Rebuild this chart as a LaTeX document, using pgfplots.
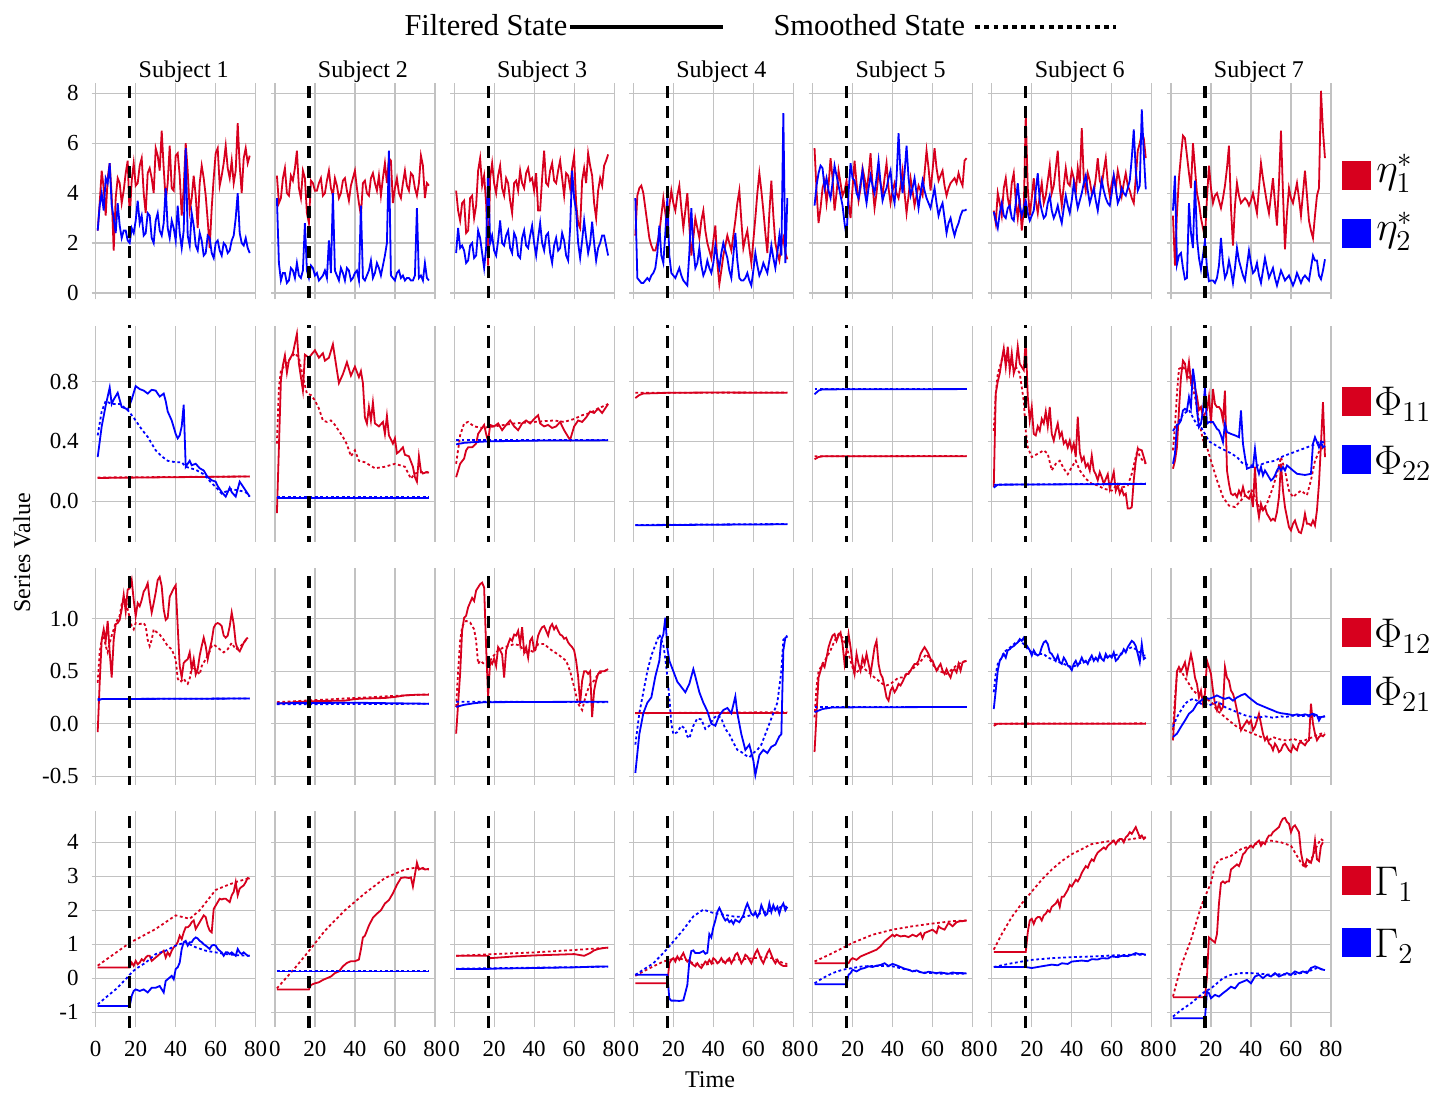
\documentclass[border=0pt]{standalone}
\usepackage[no-math]{fontspec}
\setmainfont{Liberation Serif}
\usepackage{pgfplots}
\pgfplotsset{compat=1.18}
\usepgfplotslibrary{groupplots}
\usetikzlibrary{calc}
\definecolor{cred}{HTML}{D7001E}
\definecolor{cblue}{HTML}{0000FF}

\pgfplotsset{
  /pgf/number format/assume math mode=true,
  fr/.style={cred, line width=0.9pt},
  sr/.style={cred, line width=0.9pt, dash pattern=on 1.4pt off 1.3pt},
  fb/.style={cblue, line width=0.9pt},
  sb/.style={cblue, line width=0.9pt, dash pattern=on 1.4pt off 1.3pt},
  vl/.style={black, line width=1.6pt, dash pattern=on 6pt off 4pt},
  rowA/.style={ymin=-0.254, ymax=8.40, ytick={0,2,4,6,8}},
  rowB/.style={ymin=-0.273, ymax=1.173, ytick={0,0.4,0.8},
    yticklabel style={/pgf/number format/.cd, fixed, fixed zerofill, precision=1}},
  rowC/.style={ymin=-0.58, ymax=1.48, ytick={-0.5,0,0.5,1},
    yticklabel style={/pgf/number format/.cd, fixed, fixed zerofill, precision=1}},
  rowD/.style={ymin=-1.44, ymax=4.92, ytick={-1,0,1,2,3,4}},
}

\begin{document}
\begin{tikzpicture}
\begin{groupplot}[
  group style={group name=G, group size=7 by 4, horizontal sep=7.6pt, vertical sep=13.3pt,
    xticklabels at=edge bottom, yticklabels at=edge left},
  scale only axis, width=82pt, height=108pt,
  xmin=-2, xmax=80, xtick={0,20,40,60,80},
  grid=major, grid style={draw=black!24, line width=0.6pt},
  axis line style={draw=none}, major tick length=0pt,
  tick label style={font=\fontsize{11.5}{13}\selectfont},
  yticklabel style={xshift=-3pt},
  xticklabel style={yshift=-3.5pt},
  title style={font=\fontsize{12}{14}\selectfont, anchor=base, at={(0.5,1)}, yshift=-3pt, xshift=5pt},
  no markers, clip=true,
]
% ---------------- row 1 : eta ----------------
\nextgroupplot[rowA, title={Subject 1}]
\addplot[fr] coordinates {(1,2.5)(2,3.6)(3,4.9)(4,4.2)(5,3.1)(6,4.6)(7,5.2)(8,3.9)(9,1.7)(10,3.8)(11,4.6)(12,4.4)(13,3.6)(14,4.1)(15,4.8)(16,5.3)(17,3.0)(18,4.5)(19,5.2)(20,4.3)(21,4.4)(22,5.1)(23,5.4)(24,4.0)(25,3.2)(26,4.8)(27,5.0)(28,4.6)(29,4.0)(30,5.8)(31,5.5)(32,4.9)(33,6.5)(34,5.0)(35,3.7)(36,4.4)(37,5.9)(38,4.2)(39,4.1)(40,5.5)(41,5.6)(42,4.7)(43,3.1)(44,4.2)(45,6.0)(46,4.9)(47,3.3)(48,3.8)(49,4.7)(50,3.9)(51,2.6)(52,4.4)(53,5.1)(54,4.6)(55,3.9)(56,2.9)(57,1.8)(58,3.4)(59,4.6)(60,5.6)(61,5.8)(62,4.3)(63,4.7)(64,5.2)(65,5.9)(66,5.0)(67,4.6)(68,5.3)(69,4.4)(70,4.9)(71,6.8)(72,5.1)(73,4.0)(74,5.4)(75,5.8)(76,5.2)(77,5.5)};
\addplot[fb] coordinates {(1,2.5)(2,3.5)(3,4.0)(4,3.3)(5,4.6)(6,4.4)(7,5.2)(8,3.5)(9,3.0)(10,2.4)(11,3.6)(12,2.7)(13,2.2)(14,2.5)(15,2.5)(16,2.1)(17,2.0)(18,2.6)(19,2.4)(20,2.9)(21,3.7)(22,2.8)(23,3.1)(24,2.3)(25,2.4)(26,3.2)(27,3.1)(28,2.2)(29,2.0)(30,2.9)(31,3.2)(32,2.5)(33,2.3)(34,2.8)(35,4.2)(36,2.6)(37,2.2)(38,2.9)(39,2.6)(40,2.1)(41,3.5)(42,2.4)(43,1.8)(44,2.5)(45,5.8)(46,2.3)(47,1.9)(48,3.2)(49,2.7)(50,1.9)(51,1.7)(52,2.4)(53,2.1)(54,1.5)(55,1.6)(56,2.3)(57,2.2)(58,1.6)(59,1.4)(60,2.0)(61,2.1)(62,1.7)(63,1.5)(64,2.0)(65,1.9)(66,1.6)(67,1.7)(68,2.1)(69,2.3)(70,3.0)(71,4.0)(72,2.4)(73,2.0)(74,1.9)(75,2.2)(76,1.8)(77,1.6)};
\addplot[vl] coordinates {(17,-5)(17,10)};

\nextgroupplot[rowA, title={Subject 2}]
\addplot[fr] coordinates {(1,4.7)(2,3.6)(3,3.8)(4,4.6)(5,5.0)(6,4.0)(7,3.9)(8,4.7)(9,4.5)(10,5.0)(11,5.7)(12,4.2)(13,3.8)(14,4.9)(15,4.6)(16,3.2)(17,2.8)(18,4.5)(19,4.4)(20,4.1)(21,4.1)(22,4.4)(23,4.6)(24,3.9)(25,4.0)(26,4.5)(27,4.9)(28,4.2)(29,3.9)(30,4.6)(31,4.3)(32,3.8)(33,4.0)(34,4.5)(35,4.6)(36,4.1)(37,3.7)(38,4.3)(39,4.6)(40,4.9)(41,4.2)(42,3.6)(43,3.1)(44,4.4)(45,4.5)(46,4.0)(47,3.9)(48,4.6)(49,4.8)(50,4.4)(51,4.1)(52,4.7)(53,3.9)(54,4.6)(55,5.2)(56,4.4)(57,5.4)(58,5.3)(59,3.6)(60,4.2)(61,4.6)(62,4.0)(63,3.8)(64,4.4)(65,4.9)(66,4.3)(67,4.1)(68,4.8)(69,4.7)(70,4.2)(71,3.9)(72,4.4)(73,5.5)(74,5.1)(75,3.8)(76,4.4)(77,4.3)};
\addplot[fb] coordinates {(1,3.8)(2,1.2)(3,0.5)(4,0.8)(5,0.8)(6,0.4)(7,0.5)(8,1.0)(9,0.9)(10,0.6)(11,1.2)(12,0.7)(13,0.6)(14,0.9)(15,2.8)(16,0.9)(17,0.6)(18,1.1)(19,1.0)(20,0.7)(21,0.8)(22,0.5)(23,0.6)(24,0.7)(25,0.9)(26,0.6)(27,2.1)(28,0.8)(29,4.0)(30,0.9)(31,0.7)(32,0.5)(33,1.0)(34,0.8)(35,0.5)(36,1.0)(37,0.9)(38,0.5)(39,0.6)(40,0.8)(41,0.9)(42,0.5)(43,3.5)(44,0.6)(45,0.5)(46,0.7)(47,0.9)(48,1.3)(49,0.6)(50,0.8)(51,1.2)(52,1.0)(53,0.7)(54,1.1)(55,1.5)(56,2.0)(57,5.7)(58,0.7)(59,0.6)(60,0.5)(61,0.8)(62,0.9)(63,0.6)(64,0.7)(65,0.5)(66,0.6)(67,0.6)(68,0.5)(69,0.5)(70,0.7)(71,3.4)(72,0.6)(73,0.7)(74,0.5)(75,1.2)(76,0.6)(77,0.5)};
\addplot[vl] coordinates {(17,-5)(17,10)};

\nextgroupplot[rowA, title={Subject 3}]
\addplot[fr] coordinates {(1,4.1)(2,3.3)(3,2.9)(4,3.6)(5,3.7)(6,2.4)(7,2.5)(8,3.8)(9,3.9)(10,3.0)(11,3.5)(12,4.9)(13,5.4)(14,4.3)(15,4.7)(16,3.6)(17,1.1)(18,4.6)(19,5.2)(20,4.4)(21,4.0)(22,4.7)(23,5.1)(24,4.2)(25,3.9)(26,4.6)(27,4.4)(28,3.7)(29,3.2)(30,4.4)(31,4.5)(32,4.1)(33,4.9)(34,4.4)(35,4.2)(36,4.8)(37,5.0)(38,4.5)(39,4.6)(40,4.1)(41,4.8)(42,3.3)(43,3.3)(44,4.6)(45,5.7)(46,4.4)(47,4.3)(48,4.9)(49,5.2)(50,4.5)(51,4.4)(52,4.9)(53,5.3)(54,4.6)(55,3.9)(56,4.8)(57,4.7)(58,4.2)(59,5.0)(60,5.5)(61,3.6)(62,2.8)(63,2.6)(64,4.5)(65,5.0)(66,4.4)(67,5.6)(68,5.1)(69,4.7)(70,3.6)(71,3.0)(72,4.1)(73,4.6)(74,4.3)(75,5.1)(76,5.3)(77,5.55)};
\addplot[fb] coordinates {(1,1.6)(2,2.6)(3,1.8)(4,1.9)(5,1.7)(6,1.2)(7,1.3)(8,1.9)(9,2.0)(10,1.4)(11,1.5)(12,2.5)(13,2.2)(14,1.6)(15,1.0)(16,1.8)(17,5.0)(18,2.0)(19,2.3)(20,1.7)(21,1.5)(22,2.1)(23,2.9)(24,2.0)(25,1.9)(26,2.3)(27,2.5)(28,1.8)(29,1.6)(30,2.4)(31,2.2)(32,1.5)(33,1.4)(34,2.2)(35,2.5)(36,1.9)(37,1.8)(38,2.3)(39,2.7)(40,2.0)(41,1.5)(42,2.2)(43,2.8)(44,2.0)(45,1.7)(46,2.3)(47,2.4)(48,1.6)(49,1.2)(50,1.9)(51,2.2)(52,1.7)(53,1.8)(54,2.4)(55,2.1)(56,1.5)(57,1.3)(58,2.6)(59,4.9)(60,3.8)(61,3.3)(62,2.0)(63,1.4)(64,2.1)(65,2.9)(66,2.2)(67,1.6)(68,2.0)(69,2.85)(70,2.0)(71,1.3)(72,1.8)(73,2.0)(74,2.3)(75,2.3)(76,1.9)(77,1.5)};
\addplot[vl] coordinates {(17,-5)(17,10)};

\nextgroupplot[rowA, title={Subject 4}]
\addplot[fr] coordinates {(1,2.3)(2,3.9)(3,4.2)(4,4.3)(5,4.0)(6,3.4)(7,2.8)(8,2.2)(9,1.9)(10,1.7)(11,1.7)(12,2.0)(13,2.4)(14,3.1)(15,3.8)(16,3.2)(17,2.6)(18,3.5)(19,4.1)(20,3.6)(21,3.3)(22,3.9)(23,4.3)(24,3.4)(25,2.6)(26,3.3)(27,4.0)(28,2.7)(29,1.5)(30,2.2)(31,3.0)(32,2.6)(33,2.2)(34,2.9)(35,3.3)(36,2.5)(37,2.0)(38,1.7)(39,1.4)(40,2.1)(41,2.7)(42,1.2)(43,0.35)(44,0.9)(45,1.5)(46,1.9)(47,2.3)(48,2.0)(49,1.7)(50,2.3)(51,2.9)(52,3.6)(53,4.1)(54,2.9)(55,1.8)(56,2.2)(57,2.5)(58,1.8)(59,1.2)(60,2.1)(61,3.0)(62,4.0)(63,4.8)(64,4.1)(65,3.3)(66,2.4)(67,1.6)(68,3.2)(69,4.5)(70,3.1)(71,2.0)(72,1.6)(73,1.3)(74,1.9)(75,2.2)(76,1.6)(77,1.35)};
\addplot[fb] coordinates {(1,3.8)(2,0.6)(3,0.5)(4,0.4)(5,0.4)(6,0.5)(7,0.6)(8,0.5)(9,0.7)(10,0.8)(11,1.0)(12,1.6)(13,2.7)(14,1.5)(15,1.2)(16,2.4)(17,3.8)(18,1.5)(19,0.8)(20,0.7)(21,0.6)(22,0.8)(23,1.0)(24,0.7)(25,0.5)(26,0.4)(27,0.3)(28,1.6)(29,3.4)(30,1.8)(31,1.0)(32,1.2)(33,1.8)(34,1.1)(35,0.7)(36,0.9)(37,1.3)(38,1.0)(39,0.8)(40,1.2)(41,1.9)(42,1.4)(43,1.0)(44,1.6)(45,2.0)(46,1.7)(47,1.4)(48,0.9)(49,0.6)(50,1.5)(51,2.4)(52,1.3)(53,0.6)(54,0.5)(55,0.5)(56,0.6)(57,0.8)(58,0.5)(59,0.3)(60,0.9)(61,1.6)(62,1.1)(63,0.7)(64,0.9)(65,1.2)(66,1.0)(67,0.8)(68,1.3)(69,1.9)(70,1.4)(71,1.0)(72,1.6)(73,2.3)(74,1.5)(75,7.2)(76,1.2)(77,3.8)};
\addplot[vl] coordinates {(17,-5)(17,10)};

\nextgroupplot[rowA, title={Subject 5}]
\addplot[fr] coordinates {(1,5.8)(2,4.1)(3,2.8)(4,3.4)(5,4.2)(6,4.5)(7,3.6)(8,4.3)(9,5.4)(10,4.6)(11,3.3)(12,4.0)(13,4.9)(14,4.4)(15,3.9)(16,4.1)(17,4.5)(18,3.6)(19,3.0)(20,4.2)(21,5.3)(22,4.4)(23,3.7)(24,4.2)(25,5.0)(26,4.6)(27,4.1)(28,4.7)(29,5.6)(30,4.3)(31,3.4)(32,4.0)(33,4.8)(34,4.4)(35,3.9)(36,4.6)(37,5.2)(38,4.2)(39,3.6)(40,4.1)(41,4.4)(42,4.0)(43,3.8)(44,4.3)(45,4.9)(46,4.0)(47,3.2)(48,3.9)(49,4.6)(50,4.1)(51,3.5)(52,3.9)(53,4.3)(54,4.1)(55,3.9)(56,4.8)(57,5.7)(58,5.0)(59,4.1)(60,4.9)(61,5.8)(62,5.0)(63,4.5)(64,4.7)(65,4.9)(66,4.3)(67,3.9)(68,4.2)(69,4.4)(70,4.5)(71,4.6)(72,4.4)(73,4.8)(74,4.5)(75,4.3)(76,5.3)(77,5.4)};
\addplot[fb] coordinates {(1,3.5)(2,4.3)(3,4.8)(4,5.1)(5,5.0)(6,4.2)(7,4.6)(8,4.1)(9,3.8)(10,4.4)(11,5.1)(12,4.7)(13,4.3)(14,3.9)(15,3.5)(16,2.8)(17,2.25)(18,4.0)(19,5.2)(20,4.6)(21,4.5)(22,4.0)(23,3.8)(24,4.4)(25,4.9)(26,4.1)(27,3.6)(28,4.2)(29,4.7)(30,4.3)(31,4.0)(32,4.6)(33,5.3)(34,4.4)(35,3.7)(36,4.0)(37,4.2)(38,4.6)(39,4.9)(40,4.0)(41,3.6)(42,4.6)(43,6.4)(44,4.8)(45,4.0)(46,4.8)(47,5.9)(48,4.6)(49,3.9)(50,4.2)(51,4.6)(52,4.0)(53,3.4)(54,4.0)(55,4.5)(56,4.1)(57,3.8)(58,3.6)(59,3.4)(60,3.8)(61,4.2)(62,3.6)(63,3.1)(64,3.4)(65,3.6)(66,3.0)(67,2.4)(68,2.8)(69,3.0)(70,2.6)(71,2.3)(72,2.6)(73,2.8)(74,3.1)(75,3.3)(76,3.3)(77,3.35)};
\addplot[vl] coordinates {(17,-5)(17,10)};

\nextgroupplot[rowA, title={Subject 6}]
\addplot[fr] coordinates {(1,3.3)(2,2.8)(3,4.0)(4,3.6)(5,3.1)(6,4.2)(7,4.6)(8,3.8)(9,3.4)(10,4.4)(11,4.8)(12,3.7)(13,3.0)(14,3.8)(15,2.5)(16,3.3)(17,7.15)(18,4.2)(19,3.1)(20,3.8)(21,4.6)(22,3.7)(23,3.2)(24,3.9)(25,4.4)(26,3.6)(27,3.9)(28,4.5)(29,5.1)(30,4.0)(31,4.3)(32,5.0)(33,5.7)(34,4.2)(35,3.5)(36,4.3)(37,5.0)(38,4.4)(39,4.3)(40,4.9)(41,4.6)(42,4.0)(43,5.0)(44,4.4)(45,6.6)(46,4.6)(47,4.1)(48,4.8)(49,4.5)(50,4.0)(51,4.0)(52,4.6)(53,5.4)(54,4.5)(55,4.3)(56,4.9)(57,5.4)(58,4.4)(59,3.9)(60,4.4)(61,4.7)(62,4.2)(63,4.9)(64,4.5)(65,3.9)(66,4.4)(67,4.8)(68,4.3)(69,4.1)(70,3.8)(71,3.6)(72,4.6)(73,5.7)(74,6.0)(75,6.4)(76,6.2)(77,5.4)};
\addplot[fb] coordinates {(1,3.25)(2,2.9)(3,2.6)(4,3.2)(5,3.6)(6,3.1)(7,3.0)(8,3.4)(9,3.5)(10,3.0)(11,2.9)(12,3.6)(13,4.4)(14,3.5)(15,3.1)(16,3.4)(17,3.7)(18,3.2)(19,2.9)(20,3.1)(21,3.3)(22,4.1)(23,4.8)(24,3.7)(25,3.3)(26,3.0)(27,3.1)(28,3.6)(29,3.9)(30,3.3)(31,3.0)(32,3.2)(33,3.5)(34,3.1)(35,2.8)(36,3.4)(37,3.9)(38,3.5)(39,3.2)(40,3.7)(41,4.4)(42,3.9)(43,3.4)(44,3.7)(45,4.0)(46,4.4)(47,4.7)(48,4.1)(49,3.6)(50,3.9)(51,4.2)(52,3.7)(53,3.3)(54,3.9)(55,4.5)(56,4.1)(57,3.8)(58,3.6)(59,3.5)(60,4.0)(61,4.7)(62,4.2)(63,3.6)(64,3.8)(65,4.2)(66,4.0)(67,3.9)(68,4.2)(69,4.5)(70,5.4)(71,6.55)(72,4.9)(73,4.1)(74,4.3)(75,7.35)(76,5.6)(77,4.15)};
\addplot[vl] coordinates {(17,-5)(17,10)};

\nextgroupplot[rowA, title={Subject 7}]
\addplot[fr] coordinates {(1,3.1)(2,1.1)(3,3.2)(4,4.6)(5,5.5)(6,6.3)(7,6.2)(8,5.5)(9,4.8)(10,4.2)(11,6.0)(12,5.0)(13,4.0)(14,3.6)(15,3.0)(16,2.6)(17,2.2)(18,3.8)(19,5.1)(20,4.2)(21,3.6)(22,3.9)(23,4.0)(24,3.7)(25,3.4)(26,3.8)(27,4.3)(28,5.0)(29,5.9)(30,3.4)(31,1.9)(32,3.5)(33,4.4)(34,3.9)(35,3.6)(36,3.7)(37,3.8)(38,3.7)(39,3.5)(40,3.7)(41,4.0)(42,3.6)(43,3.2)(44,4.2)(45,5.2)(46,4.6)(47,4.1)(48,3.6)(49,3.2)(50,3.9)(51,4.6)(52,3.6)(53,2.7)(54,4.4)(55,6.5)(56,4.0)(57,1.75)(58,3.2)(59,4.2)(60,3.8)(61,3.6)(62,4.0)(63,4.4)(64,3.8)(65,3.1)(66,4.0)(67,4.9)(68,3.9)(69,2.9)(70,2.5)(71,2.2)(72,3.1)(73,3.9)(74,4.2)(75,8.1)(76,6.5)(77,5.4)};
\addplot[fb] coordinates {(1,3.3)(2,4.7)(3,1.15)(4,1.5)(5,1.6)(6,1.0)(7,0.55)(8,0.6)(9,3.6)(10,2.4)(11,1.8)(12,4.5)(13,2.2)(14,1.4)(15,0.95)(16,1.5)(17,2.1)(18,1.0)(19,0.47)(20,0.5)(21,0.5)(22,0.4)(23,0.6)(24,1.1)(25,2.2)(26,1.2)(27,0.6)(28,0.8)(29,1.3)(30,0.9)(31,0.4)(32,1.0)(33,1.8)(34,1.3)(35,1.0)(36,0.7)(37,0.5)(38,1.1)(39,1.7)(40,1.2)(41,0.8)(42,0.9)(43,1.2)(44,0.7)(45,0.4)(46,0.9)(47,1.4)(48,1.0)(49,0.6)(50,0.8)(51,1.0)(52,0.6)(53,0.3)(54,0.6)(55,0.9)(56,0.7)(57,0.5)(58,0.6)(59,0.7)(60,0.5)(61,0.3)(62,0.5)(63,0.8)(64,0.6)(65,0.4)(66,0.6)(67,0.7)(68,0.6)(69,0.5)(70,1.0)(71,1.5)(72,1.3)(73,1.3)(74,0.7)(75,0.55)(76,0.9)(77,1.35)};
\addplot[vl] coordinates {(17,-5)(17,10)};

% ---------------- row 2 : Phi11, Phi22 ----------------
\nextgroupplot[rowB]
\addplot[fr] coordinates {(1,0.155)(77,0.165)};
\addplot[sr] coordinates {(1,0.158)(77,0.165)};
\addplot[fb] coordinates {(1,0.295)(3,0.5)(5,0.64)(7,0.76)(8,0.65)(9,0.68)(11,0.725)(13,0.63)(15,0.62)(16,0.61)(18,0.68)(20,0.77)(22,0.75)(24,0.74)(26,0.72)(28,0.745)(30,0.74)(32,0.7)(34,0.72)(35,0.67)(36,0.6)(38,0.54)(40,0.45)(41,0.42)(42,0.44)(43,0.5)(44,0.645)(45,0.23)(47,0.27)(48,0.24)(50,0.25)(52,0.22)(54,0.205)(56,0.16)(58,0.14)(60,0.13)(61,0.1)(63,0.06)(65,0.03)(67,0.09)(68,0.06)(70,0.03)(72,0.13)(74,0.09)(75,0.07)(77,0.03)};
\addplot[sb] coordinates {(1,0.44)(3,0.6)(5,0.67)(8,0.65)(12,0.65)(16,0.61)(20,0.54)(23,0.48)(26,0.43)(30,0.34)(33,0.3)(36,0.27)(40,0.26)(43,0.26)(45,0.23)(50,0.21)(54,0.18)(58,0.12)(61,0.08)(63,0.05)(66,0.07)(68,0.08)(72,0.07)(75,0.06)(77,0.03)};
\addplot[vl] coordinates {(17,-5)(17,10)};

\nextgroupplot[rowB]
\addplot[fr] coordinates {(1,-0.08)(2,0.36)(3,0.81)(4,0.91)(5,0.975)(6,0.86)(7,0.94)(9,0.99)(11,1.12)(12,0.92)(14,0.74)(15,0.98)(17,0.96)(20,1.01)(22,0.96)(24,0.99)(25,0.94)(27,0.96)(29,1.05)(31,0.875)(32,0.79)(34,0.85)(36,0.93)(38,0.84)(40,0.9)(42,0.83)(43,0.87)(44,0.79)(45,0.56)(46,0.52)(47,0.63)(48,0.54)(49,0.66)(50,0.52)(52,0.5)(54,0.53)(55,0.45)(56,0.57)(57,0.44)(59,0.385)(60,0.42)(61,0.32)(62,0.33)(64,0.36)(65,0.31)(67,0.3)(69,0.23)(70,0.16)(71,0.13)(72,0.3)(73,0.2)(74,0.185)(76,0.195)(77,0.19)};
\addplot[sr] coordinates {(1,0.385)(2,0.76)(3,0.875)(5,0.91)(8,0.96)(10,0.99)(12,0.96)(14,0.83)(16,0.72)(18,0.71)(20,0.675)(22,0.62)(24,0.54)(26,0.53)(28,0.54)(30,0.51)(34,0.43)(36,0.38)(38,0.3)(40,0.34)(42,0.27)(45,0.26)(50,0.22)(55,0.23)(60,0.25)(65,0.23)(68,0.15)(70,0.185)(74,0.196)(77,0.19)};
\addplot[fb] coordinates {(1,0.022)(77,0.022)};
\addplot[sb] coordinates {(1,0.025)(77,0.025)};
\addplot[vl] coordinates {(17,-5)(17,10)};

\nextgroupplot[rowB]
\addplot[fr] coordinates {(1,0.16)(3,0.25)(5,0.285)(6,0.34)(7,0.36)(9,0.36)(11,0.385)(12,0.45)(14,0.49)(15,0.51)(16,0.45)(17,0.4)(18,0.51)(20,0.5)(22,0.52)(24,0.475)(26,0.51)(28,0.54)(30,0.5)(32,0.475)(34,0.52)(36,0.54)(38,0.52)(40,0.55)(42,0.575)(43,0.52)(45,0.5)(47,0.51)(49,0.49)(51,0.5)(53,0.53)(55,0.475)(57,0.43)(58,0.41)(60,0.5)(62,0.54)(64,0.53)(66,0.56)(68,0.6)(70,0.59)(72,0.62)(74,0.59)(76,0.63)(77,0.65)};
\addplot[sr] coordinates {(1,0.25)(3,0.44)(5,0.52)(7,0.53)(10,0.5)(14,0.49)(20,0.5)(30,0.52)(40,0.53)(50,0.54)(55,0.53)(60,0.55)(64,0.575)(68,0.59)(72,0.62)(77,0.65)};
\addplot[fb] coordinates {(1,0.38)(5,0.39)(10,0.395)(17,0.4)(40,0.405)(77,0.407)};
\addplot[sb] coordinates {(1,0.41)(77,0.41)};
\addplot[vl] coordinates {(17,-5)(17,10)};

\nextgroupplot[rowB]
\addplot[fr] coordinates {(1,0.69)(3,0.71)(5,0.72)(17,0.725)(40,0.727)(77,0.725)};
\addplot[sr] coordinates {(1,0.725)(77,0.727)};
\addplot[fb] coordinates {(1,-0.162)(40,-0.158)(77,-0.155)};
\addplot[sb] coordinates {(1,-0.16)(77,-0.153)};
\addplot[vl] coordinates {(17,-5)(17,10)};

\nextgroupplot[rowB]
\addplot[fr] coordinates {(1,0.28)(3,0.295)(5,0.3)(77,0.3)};
\addplot[sr] coordinates {(1,0.3)(77,0.302)};
\addplot[fb] coordinates {(1,0.715)(3,0.74)(5,0.748)(77,0.75)};
\addplot[sb] coordinates {(1,0.752)(77,0.752)};
\addplot[vl] coordinates {(17,-5)(17,10)};

\nextgroupplot[rowB]
\addplot[fr] coordinates {(1,0.094)(2,0.72)(3,0.8)(4,0.855)(5,0.944)(6,1.022)(7,0.9)(8,1.034)(9,0.877)(10,0.99)(11,0.855)(12,0.9)(13,1.034)(14,0.92)(16,0.877)(17,1.08)(18,0.7)(19,0.54)(20,0.63)(21,0.45)(22,0.44)(23,0.5)(24,0.47)(25,0.55)(26,0.52)(27,0.6)(28,0.5)(29,0.63)(30,0.45)(31,0.405)(32,0.47)(33,0.52)(34,0.43)(35,0.46)(36,0.385)(37,0.405)(38,0.36)(39,0.405)(40,0.34)(41,0.385)(42,0.295)(43,0.565)(44,0.33)(45,0.27)(46,0.295)(47,0.23)(48,0.25)(49,0.205)(50,0.305)(51,0.205)(52,0.18)(53,0.14)(54,0.195)(55,0.16)(56,0.116)(58,0.18)(59,0.083)(60,0.14)(61,0.195)(62,0.07)(63,0.105)(64,0.05)(65,0.083)(66,0.04)(67,0.05)(68,-0.05)(69,-0.05)(70,-0.04)(71,0.14)(72,0.27)(73,0.35)(75,0.34)(77,0.25)};
\addplot[sr] coordinates {(1,0.47)(2,0.72)(3,0.85)(5,0.944)(7,0.97)(9,0.92)(12,0.9)(14,0.855)(16,0.67)(17,0.47)(18,0.36)(20,0.295)(23,0.317)(26,0.34)(28,0.317)(30,0.206)(32,0.25)(34,0.27)(36,0.217)(38,0.18)(40,0.228)(42,0.27)(44,0.206)(47,0.15)(50,0.116)(53,0.105)(56,0.083)(60,0.07)(63,0.116)(66,0.094)(68,0.105)(70,0.183)(72,0.295)(73,0.35)(74,0.295)(77,0.25)};
\addplot[fb] coordinates {(1,0.09)(3,0.11)(77,0.115)};
\addplot[sb] coordinates {(1,0.11)(77,0.117)};
\addplot[vl] coordinates {(17,-5)(17,10)};

\nextgroupplot[rowB]
\addplot[fr] coordinates {(1,0.217)(2,0.27)(3,0.36)(4,0.61)(5,0.83)(6,0.94)(7,0.92)(8,0.83)(9,0.93)(10,0.8)(11,0.85)(12,0.76)(13,0.7)(14,0.61)(15,0.63)(16,0.56)(17,0.585)(18,0.61)(19,0.7)(20,0.52)(21,0.75)(22,0.65)(23,0.63)(24,0.63)(25,0.61)(26,0.54)(27,0.74)(28,0.205)(29,0.116)(30,0.05)(31,0.04)(32,0.05)(33,0.027)(34,0.07)(35,0.04)(36,0.094)(37,0.04)(38,0.027)(39,0.016)(40,0.05)(41,-0.04)(42,0.23)(43,-0.018)(44,-0.107)(45,-0.018)(46,-0.06)(47,-0.04)(48,-0.085)(49,-0.107)(50,-0.13)(51,-0.118)(52,-0.13)(53,-0.074)(54,0.027)(55,0.25)(56,0.07)(57,-0.04)(58,-0.107)(59,-0.174)(60,-0.196)(61,-0.152)(62,-0.13)(63,-0.174)(64,-0.207)(65,-0.214)(66,-0.163)(67,-0.085)(68,-0.152)(69,-0.152)(70,-0.163)(71,-0.13)(72,-0.163)(73,-0.06)(74,0.116)(75,0.384)(76,0.663)(77,0.295)};
\addplot[sr] coordinates {(1,0.34)(2,0.5)(3,0.72)(4,0.885)(6,0.9)(8,0.86)(10,0.8)(12,0.7)(14,0.54)(16,0.41)(18,0.36)(20,0.27)(23,0.14)(26,0.027)(29,-0.03)(32,-0.04)(35,0.005)(38,0.05)(40,0.08)(42,0.027)(44,-0.04)(46,-0.06)(48,-0.018)(51,0.094)(53,0.183)(55,0.295)(57,0.205)(59,0.07)(61,0.027)(63,0.05)(65,0.07)(68,0.04)(70,0.14)(72,0.27)(74,0.33)(76,0.36)(77,0.34)};
\addplot[fb] coordinates {(1,0.25)(2,0.317)(3,0.507)(4,0.518)(5,0.54)(6,0.607)(7,0.618)(8,0.607)(9,0.696)(10,0.63)(11,0.886)(12,0.786)(13,0.607)(14,0.496)(15,0.518)(16,0.607)(17,0.763)(18,0.518)(19,0.529)(21,0.529)(22,0.507)(23,0.484)(24,0.473)(25,0.44)(26,0.395)(27,0.518)(28,0.462)(30,0.45)(32,0.44)(34,0.428)(35,0.607)(36,0.384)(37,0.295)(38,0.217)(40,0.228)(41,0.228)(42,0.35)(43,0.228)(44,0.183)(45,0.228)(46,0.172)(47,0.205)(48,0.183)(49,0.16)(50,0.138)(51,0.15)(52,0.172)(53,0.205)(54,0.228)(55,0.205)(56,0.228)(57,0.205)(58,0.239)(59,0.228)(61,0.205)(63,0.183)(65,0.179)(67,0.175)(69,0.18)(70,0.183)(71,0.384)(72,0.428)(73,0.395)(74,0.36)(75,0.395)(76,0.36)(77,0.37)};
\addplot[sb] coordinates {(1,0.47)(3,0.51)(6,0.58)(9,0.61)(11,0.56)(13,0.51)(15,0.495)(17,0.45)(19,0.4)(21,0.385)(24,0.36)(27,0.34)(30,0.32)(33,0.295)(36,0.25)(40,0.24)(44,0.24)(48,0.26)(52,0.27)(56,0.3)(60,0.32)(64,0.34)(68,0.36)(72,0.38)(75,0.4)(77,0.39)};
\addplot[vl] coordinates {(17,-5)(17,10)};

% ---------------- row 3 : Phi12, Phi21 ----------------
\nextgroupplot[rowC]
\addplot[fr] coordinates {(1,-0.08)(2,0.39)(3,0.8)(4,0.9)(5,0.79)(6,0.98)(7,0.68)(8,0.44)(9,0.8)(10,0.95)(11,0.96)(12,0.99)(13,1.09)(14,1.23)(15,1.07)(16,1.28)(17,1.29)(18,1.37)(19,1.18)(20,1.025)(21,1.15)(22,1.12)(23,1.18)(24,1.26)(25,1.29)(26,1.34)(27,1.18)(28,1.06)(29,1.15)(30,1.25)(31,1.37)(32,1.4)(33,1.31)(34,1.09)(35,0.99)(36,1.01)(37,1.21)(38,1.25)(39,1.29)(40,1.32)(41,0.93)(42,0.55)(43,0.44)(44,0.58)(45,0.6)(46,0.615)(47,0.68)(48,0.52)(49,0.615)(50,0.47)(51,0.52)(52,0.65)(53,0.74)(54,0.82)(55,0.74)(56,0.615)(57,0.71)(58,0.79)(59,0.915)(60,0.95)(61,0.96)(62,0.95)(63,0.93)(64,0.84)(65,0.82)(66,0.84)(67,0.93)(68,1.06)(69,0.95)(70,0.77)(71,0.71)(72,0.69)(73,0.73)(74,0.77)(75,0.8)(76,0.82)};
\addplot[sr] coordinates {(1,0.39)(2,0.68)(3,0.8)(4,0.84)(5,0.74)(6,0.68)(7,0.77)(8,0.84)(9,0.9)(10,0.96)(12,1.03)(13,1.14)(15,1.18)(16,1.09)(18,0.93)(19,0.9)(20,0.96)(22,0.95)(24,0.96)(25,0.93)(26,0.8)(27,0.74)(28,0.8)(29,0.9)(30,0.88)(32,0.85)(34,0.8)(36,0.74)(38,0.71)(40,0.615)(41,0.43)(42,0.4)(43,0.41)(44,0.43)(45,0.4)(46,0.38)(47,0.43)(48,0.55)(49,0.53)(50,0.52)(51,0.49)(52,0.47)(53,0.55)(55,0.615)(57,0.69)(58,0.74)(59,0.755)(60,0.74)(62,0.71)(64,0.68)(66,0.71)(68,0.77)(70,0.71)(72,0.73)(74,0.77)(76,0.82)};
\addplot[fb] coordinates {(1,0.22)(3,0.235)(77,0.24)};
\addplot[sb] coordinates {(1,0.235)(77,0.24)};
\addplot[vl] coordinates {(17,-5)(17,10)};

\nextgroupplot[rowC]
\addplot[fr] coordinates {(1,0.19)(10,0.205)(20,0.215)(35,0.22)(40,0.235)(45,0.24)(55,0.245)(60,0.255)(65,0.27)(70,0.275)(77,0.275)};
\addplot[sr] coordinates {(1,0.205)(20,0.225)(40,0.245)(60,0.265)(77,0.28)};
\addplot[fb] coordinates {(1,0.195)(40,0.2)(77,0.19)};
\addplot[sb] coordinates {(1,0.185)(77,0.19)};
\addplot[vl] coordinates {(17,-5)(17,10)};

\nextgroupplot[rowC]
\addplot[fr] coordinates {(1,-0.095)(2,0.19)(3,0.475)(4,0.886)(5,1.01)(6,1.03)(7,1.11)(8,1.155)(9,1.2)(10,1.17)(11,1.27)(12,1.3)(13,1.33)(14,1.345)(15,1.3)(16,0.73)(17,0.25)(18,0.6)(19,0.57)(20,0.62)(21,0.55)(22,0.73)(23,0.7)(24,0.66)(25,0.44)(26,0.7)(27,0.76)(28,0.81)(29,0.79)(30,0.85)(31,0.84)(32,0.886)(33,0.76)(34,0.92)(35,0.68)(36,0.73)(37,0.63)(38,0.79)(39,0.82)(40,0.7)(41,0.73)(42,0.84)(43,0.886)(44,0.92)(45,0.93)(46,0.886)(47,0.84)(48,0.92)(49,0.95)(50,0.9)(51,0.93)(52,0.886)(53,0.85)(54,0.84)(55,0.81)(56,0.82)(57,0.775)(58,0.75)(59,0.73)(60,0.7)(61,0.6)(62,0.45)(63,0.19)(64,0.41)(65,0.5)(66,0.5)(67,0.475)(68,0.5)(69,0.063)(70,0.316)(71,0.41)(72,0.475)(73,0.5)(75,0.5)(77,0.52)};
\addplot[sr] coordinates {(1,0.16)(2,0.5)(3,0.79)(4,0.92)(5,0.965)(6,0.98)(8,0.965)(10,0.9)(11,0.79)(12,0.57)(13,0.6)(15,0.57)(17,0.57)(19,0.63)(22,0.7)(25,0.73)(28,0.745)(30,0.76)(33,0.745)(36,0.66)(38,0.7)(40,0.68)(42,0.76)(45,0.76)(48,0.71)(52,0.66)(56,0.6)(58,0.5)(60,0.35)(62,0.19)(64,0.13)(66,0.28)(68,0.38)(70,0.41)(72,0.475)(75,0.5)(77,0.52)};
\addplot[fb] coordinates {(1,0.16)(5,0.18)(10,0.195)(15,0.205)(77,0.21)};
\addplot[sb] coordinates {(1,0.21)(77,0.205)};
\addplot[vl] coordinates {(17,-5)(17,10)};

\nextgroupplot[rowC]
\addplot[fr] coordinates {(1,0.105)(77,0.105)};
\addplot[sr] coordinates {(1,0.1)(77,0.11)};
\addplot[fb] coordinates {(1,-0.47)(3,-0.1)(5,0.1)(7,0.2)(9,0.25)(11,0.45)(13,0.6)(14,0.8)(15,0.85)(16,1.01)(17,0.72)(18,0.6)(20,0.5)(22,0.4)(24,0.35)(26,0.3)(28,0.38)(30,0.52)(31,0.45)(33,0.3)(35,0.2)(37,0.12)(39,0.0)(41,-0.02)(43,0.08)(45,0.13)(47,0.15)(49,0.1)(51,0.26)(52,0.1)(54,-0.1)(56,-0.25)(58,-0.2)(60,-0.35)(61,-0.49)(63,-0.3)(65,-0.25)(67,-0.28)(69,-0.22)(71,-0.2)(73,-0.12)(74,-0.1)(75,0.7)(76,0.82)(77,0.83)};
\addplot[sb] coordinates {(1,-0.2)(3,0.1)(5,0.3)(7,0.5)(9,0.65)(11,0.75)(13,0.85)(15,0.75)(16,0.62)(17,0.45)(18,0.25)(19,0.0)(20,-0.1)(22,-0.08)(24,-0.02)(26,-0.05)(27,-0.12)(28,-0.14)(30,-0.02)(32,0.05)(34,0.04)(36,-0.05)(38,-0.02)(40,0.05)(42,0.08)(44,0.05)(46,-0.05)(48,-0.1)(50,-0.18)(52,-0.25)(54,-0.27)(56,-0.3)(58,-0.32)(60,-0.28)(62,-0.25)(64,-0.2)(66,-0.1)(68,0.0)(70,0.1)(72,0.2)(74,0.5)(75,0.8)(77,0.84)};
\addplot[vl] coordinates {(17,-5)(17,10)};

\nextgroupplot[rowC]
\addplot[fr] coordinates {(1,-0.27)(2,0.095)(3,0.44)(4,0.506)(5,0.57)(6,0.54)(7,0.63)(8,0.73)(9,0.79)(10,0.84)(11,0.855)(12,0.79)(13,0.84)(14,0.87)(15,0.76)(16,0.57)(17,0.7)(18,0.855)(19,0.73)(20,0.57)(21,0.475)(22,0.665)(23,0.57)(24,0.506)(25,0.63)(26,0.57)(27,0.665)(28,0.57)(29,0.475)(30,0.6)(31,0.73)(32,0.79)(33,0.57)(34,0.475)(35,0.44)(36,0.35)(37,0.25)(38,0.22)(39,0.316)(40,0.35)(41,0.3)(42,0.33)(43,0.38)(44,0.364)(45,0.4)(46,0.44)(47,0.475)(48,0.475)(49,0.506)(50,0.54)(51,0.57)(52,0.57)(53,0.6)(54,0.665)(55,0.7)(56,0.73)(57,0.7)(58,0.665)(59,0.617)(60,0.6)(61,0.55)(62,0.506)(63,0.54)(64,0.57)(65,0.506)(66,0.475)(67,0.52)(68,0.475)(69,0.44)(70,0.506)(71,0.52)(72,0.49)(73,0.57)(74,0.506)(75,0.585)(77,0.6)};
\addplot[sr] coordinates {(1,0.06)(2,0.35)(3,0.5)(5,0.57)(7,0.63)(9,0.7)(11,0.79)(13,0.855)(15,0.82)(17,0.73)(19,0.6)(21,0.475)(23,0.506)(25,0.54)(27,0.506)(29,0.475)(31,0.44)(33,0.41)(35,0.38)(37,0.364)(39,0.38)(41,0.41)(43,0.44)(45,0.44)(47,0.475)(49,0.506)(51,0.54)(53,0.57)(55,0.617)(57,0.665)(59,0.6)(61,0.54)(63,0.506)(65,0.49)(67,0.475)(69,0.506)(71,0.54)(73,0.57)(75,0.59)(77,0.6)};
\addplot[fb] coordinates {(1,0.11)(5,0.14)(10,0.155)(77,0.16)};
\addplot[sb] coordinates {(1,0.16)(77,0.16)};
\addplot[vl] coordinates {(17,-5)(17,10)};

\nextgroupplot[rowC]
\addplot[fr] coordinates {(1,-0.02)(3,0.0)(77,0.0)};
\addplot[sr] coordinates {(1,0.0)(77,0.003)};
\addplot[fb] coordinates {(1,0.14)(2,0.316)(3,0.506)(4,0.6)(5,0.63)(6,0.665)(7,0.63)(8,0.7)(9,0.71)(10,0.73)(11,0.74)(12,0.76)(13,0.775)(14,0.807)(15,0.79)(16,0.82)(17,0.76)(18,0.73)(19,0.7)(20,0.65)(21,0.7)(22,0.665)(23,0.65)(24,0.665)(25,0.73)(26,0.775)(27,0.79)(28,0.76)(29,0.68)(30,0.665)(31,0.63)(32,0.6)(33,0.65)(34,0.585)(35,0.57)(36,0.63)(37,0.6)(38,0.554)(39,0.54)(40,0.51)(41,0.57)(42,0.6)(43,0.554)(44,0.585)(45,0.63)(46,0.585)(47,0.6)(48,0.57)(49,0.617)(50,0.65)(51,0.6)(52,0.63)(53,0.6)(54,0.665)(55,0.617)(56,0.6)(57,0.665)(58,0.63)(59,0.65)(60,0.63)(61,0.68)(62,0.6)(63,0.617)(64,0.65)(65,0.665)(66,0.71)(67,0.68)(68,0.73)(69,0.76)(70,0.79)(71,0.775)(72,0.74)(73,0.665)(74,0.585)(75,0.76)(76,0.617)(77,0.63)};
\addplot[sb] coordinates {(1,0.3)(2,0.475)(3,0.57)(4,0.6)(5,0.63)(6,0.68)(8,0.71)(10,0.74)(12,0.775)(14,0.79)(16,0.76)(18,0.71)(20,0.68)(22,0.66)(24,0.665)(26,0.665)(28,0.63)(30,0.617)(32,0.6)(34,0.585)(36,0.57)(38,0.554)(40,0.54)(42,0.554)(44,0.576)(46,0.585)(48,0.6)(50,0.617)(52,0.617)(54,0.63)(56,0.63)(58,0.636)(60,0.65)(62,0.655)(64,0.665)(66,0.68)(68,0.71)(70,0.73)(72,0.71)(74,0.68)(76,0.65)(77,0.65)};
\addplot[vl] coordinates {(17,-5)(17,10)};

\nextgroupplot[rowC]
\addplot[fr] coordinates {(1,-0.16)(2,0.16)(3,0.5)(4,0.54)(5,0.5)(6,0.54)(7,0.585)(8,0.475)(9,0.57)(10,0.665)(11,0.57)(12,0.44)(13,0.38)(14,0.25)(15,0.316)(16,0.19)(17,0.285)(18,0.6)(19,0.54)(20,0.475)(21,0.316)(22,0.19)(23,0.127)(24,0.19)(25,0.127)(26,0.158)(27,0.54)(28,0.44)(29,0.41)(30,0.316)(31,0.285)(32,0.22)(33,0.127)(34,0.03)(35,-0.063)(36,-0.03)(37,0.0)(38,0.03)(39,0.0)(40,0.03)(41,-0.063)(42,-0.03)(43,0.03)(44,0.095)(45,0.0)(46,-0.095)(47,-0.158)(48,-0.127)(49,-0.19)(50,-0.206)(51,-0.253)(52,-0.19)(53,-0.22)(54,-0.27)(55,-0.253)(56,-0.206)(57,-0.19)(58,-0.22)(59,-0.253)(60,-0.27)(61,-0.206)(62,-0.237)(63,-0.253)(64,-0.19)(65,-0.174)(66,-0.19)(67,-0.206)(68,-0.174)(69,-0.158)(70,0.19)(71,0.0)(72,-0.095)(73,-0.158)(74,-0.127)(75,-0.11)(76,-0.12)(77,-0.1)};
\addplot[sr] coordinates {(1,-0.063)(2,0.25)(3,0.475)(5,0.506)(7,0.44)(9,0.38)(11,0.316)(13,0.285)(15,0.285)(17,0.25)(19,0.22)(21,0.19)(23,0.127)(25,0.095)(27,0.063)(29,0.03)(31,0.0)(33,-0.03)(35,-0.047)(37,-0.063)(39,-0.08)(41,-0.095)(43,-0.11)(45,-0.127)(47,-0.142)(49,-0.158)(51,-0.127)(53,-0.142)(55,-0.152)(57,-0.158)(59,-0.158)(61,-0.142)(63,-0.158)(65,-0.165)(67,-0.158)(69,-0.142)(71,-0.127)(73,-0.11)(75,-0.095)(77,-0.09)};
\addplot[fb] coordinates {(1,-0.127)(3,-0.095)(5,-0.03)(7,0.03)(9,0.095)(11,0.127)(13,0.19)(15,0.22)(17,0.25)(19,0.237)(21,0.25)(23,0.27)(25,0.25)(27,0.237)(29,0.25)(31,0.22)(33,0.25)(35,0.27)(37,0.285)(39,0.25)(41,0.22)(43,0.19)(45,0.174)(47,0.158)(49,0.142)(51,0.127)(53,0.11)(55,0.1)(57,0.095)(59,0.089)(61,0.08)(63,0.089)(65,0.08)(67,0.089)(69,0.08)(71,0.095)(73,0.08)(74,0.03)(75,0.063)(77,0.07)};
\addplot[sb] coordinates {(1,-0.03)(3,0.063)(5,0.127)(7,0.19)(9,0.22)(11,0.237)(13,0.22)(15,0.19)(17,0.19)(19,0.174)(21,0.19)(23,0.206)(25,0.19)(27,0.158)(29,0.142)(31,0.127)(33,0.11)(35,0.095)(37,0.08)(39,0.07)(41,0.063)(43,0.057)(45,0.063)(47,0.07)(49,0.063)(51,0.057)(53,0.063)(55,0.07)(57,0.063)(59,0.07)(61,0.076)(63,0.076)(65,0.07)(67,0.076)(69,0.07)(71,0.08)(73,0.063)(75,0.063)(77,0.07)};
\addplot[vl] coordinates {(17,-5)(17,10)};

% ---------------- row 4 : Gamma ----------------
\nextgroupplot[rowD]
\addplot[fr] coordinates {(1,0.316)(17,0.316)(18,0.46)(19,0.365)(20,0.51)(21,0.41)(22,0.46)(23,0.56)(24,0.51)(25,0.61)(26,0.66)(27,0.66)(28,0.51)(29,0.56)(30,0.61)(31,0.66)(32,0.71)(33,0.76)(34,0.81)(35,0.61)(36,0.76)(37,0.66)(38,0.81)(39,0.91)(40,0.96)(41,1.06)(42,1.25)(43,1.15)(44,1.35)(45,1.5)(46,1.5)(47,1.55)(48,1.65)(49,1.7)(50,1.45)(51,1.55)(52,1.65)(53,1.75)(54,1.85)(55,1.8)(56,1.55)(57,1.4)(58,1.35)(59,2.04)(60,2.14)(61,2.24)(62,2.34)(63,2.32)(64,2.34)(65,2.34)(66,2.29)(67,2.24)(68,2.44)(69,2.54)(70,2.83)(71,2.44)(72,2.64)(73,2.69)(74,2.73)(75,2.83)(76,2.95)(77,2.93)};
\addplot[sr] coordinates {(1,0.37)(17,1.04)(30,1.45)(40,1.85)(47,1.75)(52,2.0)(56,2.3)(60,2.6)(65,2.72)(70,2.83)(77,2.95)};
\addplot[fb] coordinates {(1,-0.82)(17,-0.82)(18,-0.52)(19,-0.375)(20,-0.33)(22,-0.375)(24,-0.33)(26,-0.42)(28,-0.28)(30,-0.28)(32,-0.23)(34,-0.42)(35,-0.08)(36,-0.03)(38,0.07)(39,-0.03)(40,0.27)(41,0.32)(42,0.46)(43,0.86)(44,1.06)(45,1.1)(46,0.96)(47,1.06)(48,1.06)(49,1.15)(50,1.2)(51,1.17)(52,1.1)(53,1.06)(54,1.0)(55,0.96)(56,0.91)(57,0.86)(58,0.96)(59,0.98)(60,0.96)(61,0.86)(62,0.81)(63,0.76)(64,0.66)(65,0.76)(66,0.76)(67,0.71)(68,0.76)(69,0.71)(70,0.66)(71,0.86)(72,0.76)(73,0.71)(74,0.76)(75,0.71)(76,0.66)(77,0.66)};
\addplot[sb] coordinates {(1,-0.77)(5,-0.57)(10,-0.33)(15,-0.03)(18,0.17)(20,0.27)(25,0.46)(30,0.71)(35,0.81)(40,0.96)(45,1.06)(50,0.91)(55,0.81)(60,0.76)(65,0.71)(70,0.68)(77,0.66)};
\addplot[vl] coordinates {(17,-5)(17,10)};

\nextgroupplot[rowD]
\addplot[fr] coordinates {(1,-0.33)(17,-0.33)(18,-0.2)(20,-0.15)(22,-0.12)(24,-0.05)(26,0.0)(28,0.05)(30,0.15)(32,0.2)(34,0.35)(36,0.45)(38,0.5)(40,0.5)(42,0.55)(43,0.85)(44,1.2)(45,1.25)(47,1.55)(49,1.78)(51,1.9)(53,2.0)(55,2.2)(57,2.3)(59,2.5)(61,2.75)(63,2.95)(65,2.97)(67,2.95)(68,2.97)(69,2.7)(70,3.05)(71,3.4)(72,3.2)(74,3.25)(75,3.2)(77,3.22)};
\addplot[sr] coordinates {(1,-0.3)(10,0.3)(17,0.8)(25,1.4)(35,2.0)(45,2.5)(55,2.95)(65,3.2)(70,3.25)(77,3.2)};
\addplot[fb] coordinates {(1,0.2)(77,0.2)};
\addplot[sb] coordinates {(1,0.21)(77,0.21)};
\addplot[vl] coordinates {(17,-5)(17,10)};

\nextgroupplot[rowD]
\addplot[fr] coordinates {(1,0.66)(17,0.66)(18,0.59)(30,0.64)(40,0.67)(50,0.69)(60,0.71)(65,0.66)(68,0.74)(70,0.82)(72,0.86)(75,0.89)(77,0.9)};
\addplot[sr] coordinates {(1,0.66)(20,0.71)(40,0.76)(60,0.83)(77,0.9)};
\addplot[fb] coordinates {(1,0.27)(17,0.27)(18,0.28)(40,0.3)(60,0.32)(70,0.34)(77,0.345)};
\addplot[sb] coordinates {(1,0.28)(40,0.31)(77,0.34)};
\addplot[vl] coordinates {(17,-5)(17,10)};

\nextgroupplot[rowD]
\addplot[fr] coordinates {(1,-0.15)(17,-0.15)(18,0.44)(19,0.54)(20,0.59)(21,0.49)(22,0.64)(23,0.54)(24,0.64)(25,0.74)(26,0.59)(27,0.49)(28,0.54)(29,0.44)(30,0.39)(31,0.35)(32,0.44)(33,0.35)(34,0.3)(35,0.39)(36,0.49)(37,0.44)(38,0.54)(39,0.44)(40,0.59)(41,0.54)(42,0.44)(43,0.49)(44,0.59)(45,0.49)(46,0.44)(47,0.54)(48,0.59)(49,0.44)(50,0.54)(51,0.69)(52,0.74)(53,0.59)(54,0.44)(55,0.54)(56,0.69)(57,0.64)(58,0.54)(59,0.44)(60,0.59)(61,0.74)(62,0.84)(63,0.69)(64,0.54)(65,0.44)(66,0.59)(67,0.74)(68,0.84)(69,0.69)(70,0.54)(71,0.44)(72,0.54)(73,0.44)(74,0.39)(75,0.36)(77,0.36)};
\addplot[sr] coordinates {(1,0.07)(5,0.2)(10,0.35)(15,0.49)(18,0.54)(22,0.59)(26,0.54)(30,0.44)(35,0.39)(40,0.44)(45,0.49)(50,0.54)(55,0.56)(60,0.59)(65,0.62)(70,0.59)(75,0.44)(77,0.42)};
\addplot[fb] coordinates {(1,0.1)(17,0.1)(18,-0.6)(19,-0.66)(21,-0.66)(23,-0.67)(25,-0.65)(27,-0.2)(28,0.5)(29,0.8)(30,0.82)(31,0.74)(33,0.74)(35,0.8)(36,0.72)(37,0.75)(38,1.3)(39,1.2)(40,1.5)(41,1.7)(42,1.95)(43,2.07)(44,1.95)(45,1.8)(46,1.7)(47,1.75)(48,1.65)(49,1.7)(50,1.6)(51,1.72)(52,1.68)(53,1.65)(54,1.75)(55,1.85)(56,2.05)(57,2.2)(58,2.05)(59,1.9)(60,1.85)(61,1.95)(62,1.8)(63,1.9)(64,2.15)(65,2.0)(66,1.85)(67,1.9)(68,2.2)(69,1.95)(70,2.15)(71,2.0)(72,2.1)(73,1.9)(74,2.1)(75,2.2)(76,2.0)(77,2.1)};
\addplot[sb] coordinates {(1,0.1)(5,0.25)(10,0.44)(15,0.74)(18,0.94)(20,1.08)(25,1.43)(30,1.82)(35,2.02)(40,1.92)(45,1.87)(50,1.82)(55,1.8)(60,1.87)(65,1.92)(70,2.02)(75,2.12)(77,2.1)};
\addplot[vl] coordinates {(17,-5)(17,10)};

\nextgroupplot[rowD]
\addplot[fr] coordinates {(1,0.44)(17,0.44)(18,0.44)(19,0.54)(20,0.59)(22,0.54)(24,0.64)(26,0.69)(28,0.74)(30,0.79)(32,0.84)(34,0.94)(36,1.08)(38,1.18)(40,1.28)(41,1.23)(42,1.28)(44,1.23)(46,1.25)(48,1.21)(50,1.28)(52,1.23)(54,1.33)(55,1.18)(56,1.33)(58,1.38)(60,1.43)(62,1.33)(63,1.53)(64,1.48)(66,1.43)(68,1.63)(70,1.53)(72,1.65)(74,1.68)(75,1.68)(77,1.7)};
\addplot[sr] coordinates {(1,0.49)(10,0.74)(20,1.04)(30,1.28)(40,1.43)(50,1.53)(60,1.61)(70,1.68)(77,1.7)};
\addplot[fb] coordinates {(1,-0.18)(17,-0.18)(18,0.1)(19,0.15)(20,0.25)(22,0.2)(24,0.27)(26,0.3)(28,0.35)(30,0.33)(32,0.37)(34,0.39)(36,0.44)(38,0.36)(40,0.42)(42,0.38)(44,0.33)(46,0.28)(48,0.25)(50,0.2)(52,0.23)(54,0.18)(56,0.15)(58,0.19)(60,0.17)(62,0.15)(64,0.17)(66,0.15)(68,0.13)(70,0.17)(72,0.15)(75,0.15)(77,0.14)};
\addplot[sb] coordinates {(1,-0.15)(5,0.0)(10,0.15)(15,0.25)(20,0.3)(25,0.35)(30,0.36)(35,0.36)(40,0.35)(45,0.28)(50,0.22)(55,0.17)(60,0.15)(65,0.13)(70,0.13)(77,0.13)};
\addplot[vl] coordinates {(17,-5)(17,10)};

\nextgroupplot[rowD]
\addplot[fr] coordinates {(1,0.77)(17,0.77)(18,1.35)(19,1.7)(20,1.75)(21,1.6)(22,1.75)(23,1.8)(24,1.8)(25,1.7)(26,1.85)(27,1.9)(28,2.0)(29,1.95)(30,2.1)(31,2.15)(32,2.2)(33,2.3)(34,2.1)(35,2.4)(36,2.4)(37,2.5)(38,2.6)(39,2.75)(40,2.7)(41,2.8)(42,2.9)(43,2.85)(44,2.95)(45,3.1)(46,3.2)(47,3.3)(48,3.25)(49,3.4)(50,3.5)(51,3.45)(52,3.6)(53,3.7)(54,3.75)(55,3.8)(56,3.85)(57,3.8)(58,3.9)(59,3.95)(60,4.0)(61,4.05)(62,3.95)(63,4.05)(64,4.1)(65,4.1)(66,4.0)(67,4.15)(68,4.2)(69,4.3)(70,4.25)(71,4.35)(72,4.45)(73,4.3)(74,4.15)(75,4.2)(76,4.1)(77,4.15)};
\addplot[sr] coordinates {(1,0.84)(5,1.3)(10,1.8)(15,2.2)(20,2.55)(25,2.9)(30,3.2)(35,3.45)(40,3.65)(45,3.8)(50,3.95)(55,4.0)(60,4.05)(65,4.05)(70,4.1)(77,4.15)};
\addplot[fb] coordinates {(1,0.33)(17,0.33)(20,0.3)(25,0.35)(30,0.4)(33,0.38)(35,0.44)(38,0.42)(40,0.49)(45,0.52)(48,0.5)(50,0.56)(53,0.55)(55,0.59)(58,0.58)(60,0.64)(63,0.62)(65,0.66)(68,0.65)(70,0.69)(72,0.74)(74,0.7)(75,0.72)(77,0.69)};
\addplot[sb] coordinates {(1,0.33)(10,0.44)(20,0.54)(30,0.59)(40,0.62)(50,0.64)(60,0.67)(70,0.69)(77,0.69)};
\addplot[vl] coordinates {(17,-5)(17,10)};

\nextgroupplot[rowD]
\addplot[fr] coordinates {(1,-0.56)(17,-0.56)(18,0.05)(19,1.2)(20,1.15)(21,1.1)(22,1.05)(23,1.3)(24,2.2)(25,2.8)(26,2.85)(27,2.8)(28,2.85)(29,2.85)(30,3.2)(31,3.25)(32,3.3)(33,3.35)(34,3.3)(35,3.45)(36,3.65)(37,3.7)(38,3.8)(39,3.85)(40,3.9)(41,3.85)(42,3.95)(43,4.0)(44,4.05)(45,3.9)(46,4.0)(47,3.95)(48,4.1)(49,4.2)(50,4.2)(51,4.3)(52,4.35)(53,4.4)(54,4.45)(55,4.6)(56,4.7)(57,4.72)(58,4.6)(59,4.55)(60,4.3)(61,4.45)(62,4.5)(63,4.4)(64,4.3)(65,3.7)(66,3.4)(67,3.3)(68,3.5)(69,3.45)(70,3.4)(71,3.6)(72,4.05)(73,3.5)(74,3.45)(75,3.9)(76,4.0)};
\addplot[sr] coordinates {(1,-0.54)(5,0.35)(10,1.13)(15,2.1)(17,2.4)(20,2.8)(22,3.35)(25,3.5)(30,3.6)(35,3.8)(40,3.9)(45,4.0)(50,4.05)(55,4.0)(60,3.9)(62,3.7)(65,3.4)(67,3.25)(69,3.4)(71,3.6)(73,3.9)(75,4.1)(77,4.0)};
\addplot[fb] coordinates {(1,-1.18)(17,-1.18)(18,-0.4)(19,-0.44)(20,-0.59)(22,-0.49)(24,-0.54)(26,-0.44)(28,-0.35)(30,-0.25)(32,-0.3)(34,-0.15)(36,-0.1)(38,-0.05)(40,-0.15)(42,0.05)(44,0.1)(46,0.0)(48,0.1)(50,0.05)(52,0.15)(54,0.05)(56,0.1)(58,0.15)(60,0.1)(62,0.2)(64,0.15)(66,0.2)(68,0.15)(70,0.3)(72,0.35)(74,0.3)(76,0.25)(77,0.24)};
\addplot[sb] coordinates {(1,-1.13)(5,-0.94)(10,-0.74)(15,-0.49)(17,-0.39)(20,-0.3)(23,-0.15)(26,0.0)(30,0.1)(35,0.15)(40,0.15)(45,0.13)(50,0.1)(55,0.12)(60,0.1)(65,0.15)(70,0.23)(73,0.3)(76,0.25)(77,0.25)};
\addplot[vl] coordinates {(17,-5)(17,10)};
\end{groupplot}

% ---- top legend ----
\coordinate (O) at (G c1r1.north west);
\node[anchor=base west, inner sep=0pt, font=\fontsize{15.2}{18}\selectfont] at ($(O)+(156.2pt,23.65pt)$) {Filtered State};
\draw[black, line width=2.2pt] ($(O)+(239.2pt,28.15pt)$) -- ($(O)+(315.7pt,28.15pt)$);
\node[anchor=base west, inner sep=0pt, font=\fontsize{15.2}{18}\selectfont] at ($(O)+(340.7pt,23.65pt)$) {Smoothed State};
\draw[black, line width=2.2pt, dash pattern=on 2.4pt off 2.2pt] ($(O)+(441.7pt,28.15pt)$) -- ($(O)+(512.2pt,28.15pt)$);

% ---- axis labels ----
\node[rotate=90, font=\fontsize{12}{14}\selectfont] at ($(O)+(-34.85pt,-234.85pt)$) {Series Value};
\node[font=\fontsize{12}{14}\selectfont] at ($(O)+(309.15pt,-498.35pt)$) {Time};

% ---- right legends ----
\fill[cred]  ($(G c7r1.north east)+(5.5pt,-38.9pt)$) rectangle ++(14.5pt,-14.5pt);
\fill[cblue] ($(G c7r1.north east)+(5.5pt,-67.9pt)$) rectangle ++(14.5pt,-14.5pt);
\node[anchor=base west, inner sep=0pt, font=\fontsize{21}{24}\selectfont] at ($(G c7r1.north east)+(22.5pt,-49.6pt)$) {$\eta_1^*$};
\node[anchor=base west, inner sep=0pt, font=\fontsize{21}{24}\selectfont] at ($(G c7r1.north east)+(22.5pt,-78.6pt)$) {$\eta_2^*$};

\fill[cred]  ($(G c7r2.north east)+(5.5pt,-30.4pt)$) rectangle ++(14.5pt,-14.5pt);
\fill[cblue] ($(G c7r2.north east)+(5.5pt,-59.6pt)$) rectangle ++(14.5pt,-14.5pt);
\node[anchor=base west, inner sep=0pt, font=\fontsize{21}{24}\selectfont] at ($(G c7r2.north east)+(21.5pt,-44.9pt)$) {$\Phi_{11}$};
\node[anchor=base west, inner sep=0pt, font=\fontsize{21}{24}\selectfont] at ($(G c7r2.north east)+(21.5pt,-74.1pt)$) {$\Phi_{22}$};

\fill[cred]  ($(G c7r3.north east)+(5.5pt,-24.8pt)$) rectangle ++(14.5pt,-14.5pt);
\fill[cblue] ($(G c7r3.north east)+(5.5pt,-53.8pt)$) rectangle ++(14.5pt,-14.5pt);
\node[anchor=base west, inner sep=0pt, font=\fontsize{21}{24}\selectfont] at ($(G c7r3.north east)+(21.5pt,-39.3pt)$) {$\Phi_{12}$};
\node[anchor=base west, inner sep=0pt, font=\fontsize{21}{24}\selectfont] at ($(G c7r3.north east)+(21.5pt,-68.3pt)$) {$\Phi_{21}$};

\fill[cred]  ($(G c7r4.north east)+(5.5pt,-27.5pt)$) rectangle ++(14.5pt,-14.5pt);
\fill[cblue] ($(G c7r4.north east)+(5.5pt,-58.5pt)$) rectangle ++(14.5pt,-14.5pt);
\node[anchor=base west, inner sep=0pt, font=\fontsize{21}{24}\selectfont] at ($(G c7r4.north east)+(21.5pt,-42pt)$) {$\Gamma_1$};
\node[anchor=base west, inner sep=0pt, font=\fontsize{21}{24}\selectfont] at ($(G c7r4.north east)+(21.5pt,-73pt)$) {$\Gamma_2$};

% ---- page frame ----
\path[use as bounding box] ($(O)+(-45.85pt,41.65pt)$) rectangle ($(O)+(672.15pt,-504.85pt)$);
\end{tikzpicture}
\end{document}
